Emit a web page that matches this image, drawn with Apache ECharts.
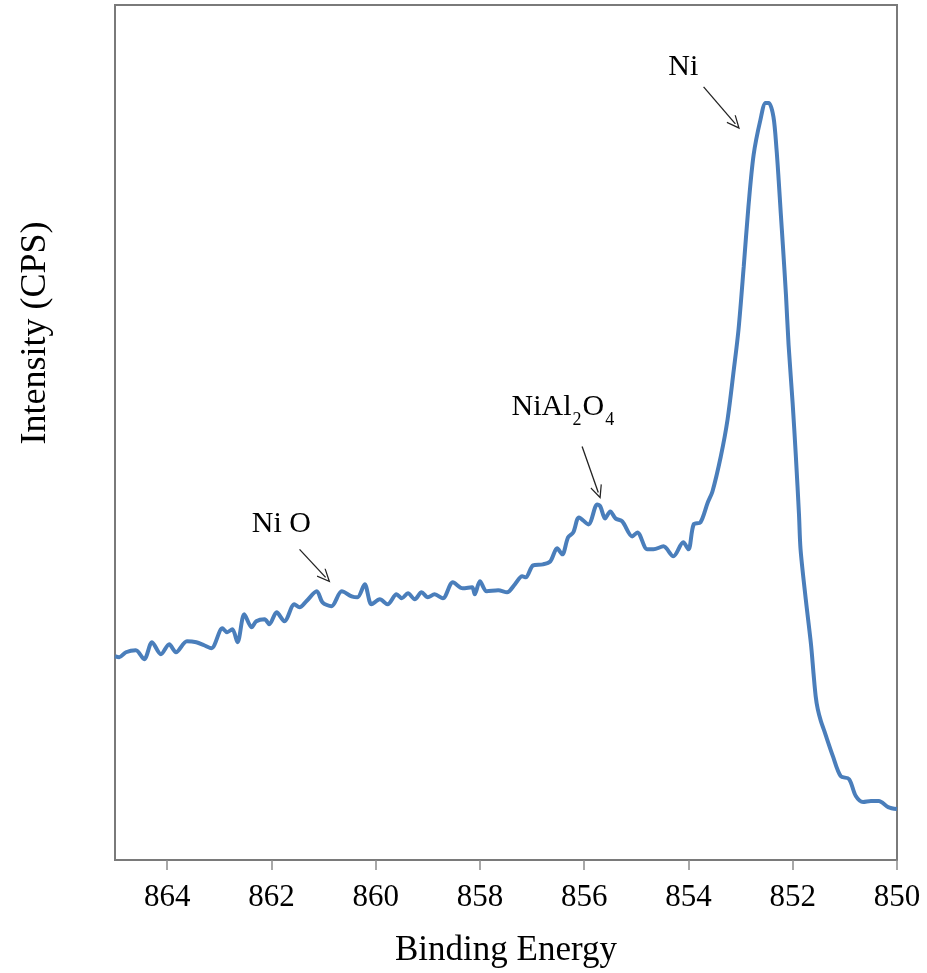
<!DOCTYPE html>
<html>
<head>
<meta charset="utf-8">
<script src="https://cdn.jsdelivr.net/npm/echarts@6/dist/echarts.min.js"></script>
<style>html,body{margin:0;padding:0;background:#fff}#c{width:927px;height:973px}</style>
</head>
<body>
<div id="c"></div>
<script>
// Binding energy (eV)
const bindingEnergy = [
  865.00, 864.92, 864.79, 864.60, 864.44, 864.29, 864.12, 863.96, 863.83, 863.62,
  863.44, 863.29, 863.15, 862.94, 862.85, 862.75, 862.65, 862.52, 862.38, 862.29,
  862.13, 862.04, 861.90, 861.75, 861.56, 861.46, 861.33, 861.13, 861.02, 860.85,
  860.65, 860.46, 860.35, 860.21, 860.08, 859.92, 859.77, 859.60, 859.50, 859.38,
  859.25, 859.12, 859.00, 858.87, 858.71, 858.52, 858.33, 858.15, 858.10, 858.00,
  857.87, 857.65, 857.48, 857.33, 857.19, 857.12, 856.98, 856.79, 856.65, 856.52,
  856.42, 856.31, 856.21, 856.10, 855.92, 855.75, 855.69, 855.60, 855.50, 855.40,
  855.27, 855.08, 854.98, 854.79, 854.67, 854.48, 854.29, 854.10, 854.00, 853.90,
  853.77, 853.63, 853.54, 853.38, 853.25, 853.13, 853.04, 852.94, 852.85, 852.75,
  852.62, 852.52, 852.46, 852.37, 852.31, 852.27, 852.23, 852.19, 852.13, 852.08,
  852.00, 851.94, 851.88, 851.85, 851.75, 851.65, 851.60, 851.56, 851.52, 851.46,
  851.40, 851.23, 851.08, 850.92, 850.79, 850.65, 850.50, 850.35, 850.17, 850.00
];
// Intensity (CPS, arbitrary scale)
const intensity = [
  2040, 2030, 2080, 2100, 2010, 2180, 2060, 2160, 2080, 2190,
  2180, 2150, 2120, 2320, 2280, 2310, 2180, 2460, 2330, 2390,
  2410, 2360, 2480, 2390, 2560, 2530, 2590, 2690, 2580, 2540,
  2690, 2640, 2630, 2760, 2560, 2610, 2560, 2660, 2620, 2670,
  2610, 2680, 2630, 2660, 2620, 2780, 2720, 2730, 2660, 2790,
  2690, 2700, 2680, 2760, 2840, 2830, 2950, 2960, 2990, 3120,
  3060, 3230, 3280, 3430, 3360, 3560, 3540, 3420, 3490, 3420,
  3390, 3240, 3280, 3110, 3110, 3140, 3040, 3180, 3110, 3360,
  3380, 3580, 3690, 4040, 4410, 4910, 5310, 5940, 6540, 7060,
  7410, 7580, 7580, 7440, 7110, 6810, 6480, 6160, 5660, 5160,
  4560, 4040, 3460, 3110, 2610, 2160, 1860, 1640, 1510, 1390,
  1300, 1040, 840, 810, 640, 580, 590, 590, 530, 510
];
const tickLabels = [864, 862, 860, 858, 856, 854, 852, 850];

// Annotations: label text, label position, arrow start, arrow end (data units)
const annoNames = ['Ni', 'NiAl2O4', 'NiO'];
const annoLabelAt = [[854.10, 7940], [856.40, 4530], [861.81, 3360]];
const arrowFrom = [[853.71, 7740], [856.04, 4140], [861.46, 3110]];
const arrowTo = [[853.10, 7370], [855.73, 3680], [860.96, 2830]];

const FONT = 'Liberation Serif';
const FS = 30;
const seriesData = bindingEnergy.map((x, i) => [x, intensity[i]]);

const richLabel = {
  t: { fontFamily: FONT, fontSize: FS, color: '#000', lineHeight: 34 },
  s: { fontFamily: FONT, fontSize: 18, color: '#000', lineHeight: 34, verticalAlign: 'bottom', padding: [0, 1, -5, 1] }
};
const labelText = {
  'Ni': '{t|Ni}',
  'NiAl2O4': '{t|NiAl}{s|2}{t|O}{s|4}',
  'NiO': '{t|Ni O}'
};

const chevron = 'path://M0,0 L6,11 L5,11.6 L0,2.6 L-5,11.6 L-6,11 Z';

const chart = echarts.init(document.getElementById('c'), null, { renderer: 'canvas' });
chart.setOption({
  animation: false,
  backgroundColor: '#fff',
  grid: {
    left: 115, right: 30, top: 5, bottom: 112,
    show: true, borderColor: '#7a7a7a', borderWidth: 2, backgroundColor: '#fff'
  },
  graphic: [{
    type: 'text',
    x: 36, y: 333, rotation: Math.PI / 2,
    style: { text: 'Intensity (CPS)', fontFamily: FONT, fontSize: 36, fill: '#000', align: 'center', verticalAlign: 'middle' }
  }],
  xAxis: {
    type: 'value', min: 850, max: 865, interval: 2, inverse: true,
    name: 'Binding Energy', nameLocation: 'middle', nameGap: 73,
    nameTextStyle: { fontFamily: FONT, fontSize: 35, color: '#000' },
    axisLine: { show: true, lineStyle: { color: '#7a7a7a', width: 2 } },
    axisTick: { show: true, length: 10, inside: false, customValues: tickLabels, lineStyle: { color: '#8c8c8c', width: 1.5 } },
    axisLabel: { customValues: tickLabels, margin: 22, fontFamily: FONT, fontSize: 31, color: '#000' },
    splitLine: { show: false }
  },
  yAxis: {
    type: 'value', min: 0, max: 8560,
    axisLine: { show: false }, axisTick: { show: false }, axisLabel: { show: false },
    splitLine: { show: false }
  },
  series: [{
    type: 'line',
    data: seriesData,
    showSymbol: false,
    smooth: 0.3,
    lineStyle: { color: '#4a7ebb', width: 4 },
    markLine: {
      silent: true,
      symbol: ['none', chevron],
      symbolSize: [12, 14],
      lineStyle: { color: '#222', width: 1.3, type: 'solid' },
      label: { show: false },
      data: arrowFrom.map((a, i) => [{ coord: a }, { coord: arrowTo[i] }])
    },
    markPoint: {
      silent: true,
      symbol: 'circle', symbolSize: 1,
      itemStyle: { color: 'rgba(0,0,0,0)' },
      label: {
        show: true, position: 'inside',
        formatter: p => labelText[p.name],
        rich: richLabel
      },
      data: annoNames.map((n, i) => ({ name: n, coord: annoLabelAt[i] }))
    }
  }]
});
</script>
</body>
</html>
